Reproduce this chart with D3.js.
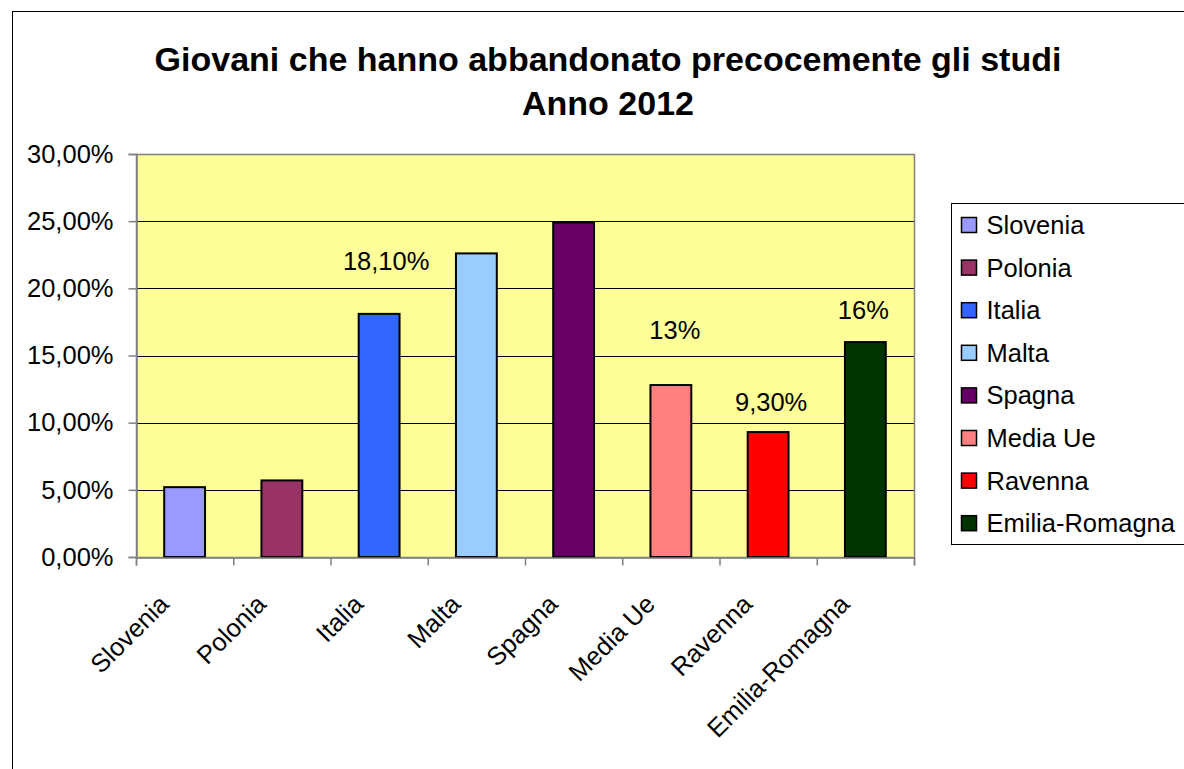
<!DOCTYPE html>
<html>
<head>
<meta charset="utf-8">
<script src="https://cdn.jsdelivr.net/npm/d3@7"></script>
<style>
  body { margin: 0; background: #fff; }
  svg { display: block; font-family: Arial, "Liberation Sans", sans-serif; }
</style>
</head>
<body>
<div id="chart"></div>
<script>
// Dati
const categories = ["Slovenia", "Polonia", "Italia", "Malta", "Spagna", "Media Ue", "Ravenna", "Emilia-Romagna"];
const values = [5.2, 5.7, 18.1, 22.6, 24.9, 12.8, 9.3, 16.0];
const barColors = ["#9999FF", "#993366", "#3366FF", "#99CCFF", "#660066", "#FF8080", "#FF0000", "#003300"];
const yTicks = [0, 5, 10, 15, 20, 25, 30];
const yTickLabels = ["0,00%", "5,00%", "10,00%", "15,00%", "20,00%", "25,00%", "30,00%"];
// etichette sui dati (solo alcune barre)
const dataLabels = [null, null, "18,10%", null, null, "13%", "9,30%", "16%"];
const titleLines = ["Giovani che hanno abbandonato precocemente gli studi", "Anno 2012"];

const width = 1184, height = 769;
const plot = { left: 136, top: 154, right: 914, bottom: 557 };
const fontSize = "25.5px";

const svg = d3.select("#chart").append("svg")
    .attr("width", width)
    .attr("height", height);

// bordo esterno del grafico
svg.append("rect")
    .attr("x", 12.5).attr("y", 11.5)
    .attr("width", 1200).attr("height", 800)
    .attr("fill", "#fff")
    .attr("stroke", "#000")
    .attr("stroke-width", 1);

// Titolo
svg.append("g").selectAll("text")
    .data(titleLines)
    .enter().append("text")
    .attr("x", 608)
    .attr("y", (d, i) => 71 + i * 44)
    .attr("text-anchor", "middle")
    .style("font-weight", "bold")
    .style("font-size", "34px")
    .text(d => d);

const x = d3.scaleBand()
    .domain(categories)
    .range([plot.left, plot.right])
    .paddingInner(0.58)
    .paddingOuter(0.29);

const y = d3.scaleLinear()
    .domain([0, 30])
    .range([plot.bottom, plot.top]);

// Sfondo area del tracciato
svg.append("rect")
    .attr("x", plot.left).attr("y", plot.top)
    .attr("width", plot.right - plot.left)
    .attr("height", plot.bottom - plot.top)
    .attr("fill", "#FFFF99");

// griglia
svg.append("g").selectAll("line")
    .data(yTicks.slice(1, -1))
    .enter().append("line")
    .attr("x1", plot.left).attr("x2", plot.right)
    .attr("y1", d => Math.round(y(d)) + 0.5)
    .attr("y2", d => Math.round(y(d)) + 0.5)
    .attr("stroke", "#000")
    .attr("stroke-width", 1);

// bordo area
svg.append("rect")
    .attr("x", plot.left + 0.5).attr("y", plot.top + 0.5)
    .attr("width", plot.right - plot.left)
    .attr("height", plot.bottom - plot.top)
    .attr("fill", "none")
    .attr("stroke", "#808080")
    .attr("stroke-width", 1.5);

// Barre
svg.append("g").selectAll("rect")
    .data(values)
    .enter().append("rect")
    .attr("x", (d, i) => x(categories[i]))
    .attr("y", d => y(d))
    .attr("width", x.bandwidth())
    .attr("height", d => y(0) - y(d))
    .attr("fill", (d, i) => barColors[i])
    .attr("stroke", "#000")
    .attr("stroke-width", 2);

// Asse Y
const yAxis = d3.axisLeft(y)
    .tickValues(yTicks)
    .tickSize(8)
    .tickFormat((d, i) => yTickLabels[i]);

const gy = svg.append("g")
    .attr("transform", `translate(${plot.left + 0.5},0)`)
    .call(yAxis);
gy.select(".domain").attr("stroke", "#808080").attr("stroke-width", 1.5);
gy.selectAll(".tick line").attr("stroke", "#808080").attr("stroke-width", 1.5);
gy.selectAll(".tick text")
    .attr("x", -23)
    .attr("fill", "#000")
    .style("font-size", fontSize)
    .style("font-family", "Arial, 'Liberation Sans', sans-serif");

// Asse X: tacche ai confini delle categorie
const xBound = d3.scaleLinear().domain([0, categories.length]).range([plot.left, plot.right]);
const gx = svg.append("g")
    .attr("transform", `translate(0,${plot.bottom + 0.5})`)
    .call(d3.axisBottom(xBound).ticks(categories.length).tickSize(8).tickFormat(""));
gx.select(".domain").attr("stroke", "#808080").attr("stroke-width", 1.5);
gx.selectAll(".tick line").attr("stroke", "#808080").attr("stroke-width", 1.5);

// etichette categorie ruotate
svg.append("g").selectAll("text")
    .data(categories)
    .enter().append("text")
    .attr("transform", d => `translate(${x(d) + x.bandwidth() / 2 - 27},${plot.bottom + 36}) rotate(-45)`)
    .attr("text-anchor", "end")
    .attr("dy", "0.7em")
    .style("font-size", fontSize)
    .text(d => d);

// etichette dati
const labelDy = [0, 0, -44, 0, 0, -46, -21, -23];
const labelDx = [0, 0, 7, 0, 0, 4, 3, -2];
const labelIdx = d3.range(values.length).filter(i => dataLabels[i] !== null);
svg.append("g").selectAll("text")
    .data(labelIdx)
    .enter().append("text")
    .attr("x", i => x(categories[i]) + x.bandwidth() / 2 + labelDx[i])
    .attr("y", i => y(values[i]) + labelDy[i])
    .attr("text-anchor", "middle")
    .style("font-size", fontSize)
    .text(i => dataLabels[i]);

// Legenda
const legend = svg.append("g").attr("transform", "translate(951.5,203.5)");
legend.append("rect")
    .attr("width", 300).attr("height", 341)
    .attr("fill", "#fff")
    .attr("stroke", "#000")
    .attr("stroke-width", 1);

const items = legend.selectAll(".legend-item")
    .data(categories)
    .enter().append("g")
    .attr("class", "legend-item")
    .attr("transform", (d, i) => `translate(10,${21.5 + i * 42.6})`);

items.append("rect")
    .attr("y", -7.5)
    .attr("width", 15).attr("height", 15)
    .attr("fill", (d, i) => barColors[i])
    .attr("stroke", "#000")
    .attr("stroke-width", 1.5);

items.append("text")
    .attr("x", 25)
    .attr("dy", "0.35em")
    .style("font-size", fontSize)
    .text(d => d);
</script>
</body>
</html>
